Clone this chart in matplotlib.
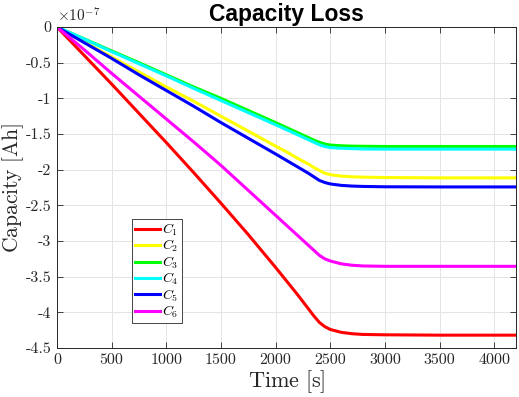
import matplotlib
matplotlib.use("Agg")
import matplotlib.pyplot as plt
from matplotlib.ticker import FuncFormatter, MultipleLocator

plt.rcParams['mathtext.fontset'] = 'cm'
plt.rcParams['axes.unicode_minus'] = False

# Time [s]
t = [0, 250, 500, 750, 1000, 1250, 1500, 1750, 2000, 2100, 2200, 2300, 2350,
     2400, 2450, 2500, 2600, 2700, 2800, 3000, 3500, 4200]

# Capacity loss in units of 1e-7 Ah
C1 = [0, -0.40, -0.80, -1.21, -1.62, -2.04, -2.47, -2.91, -3.37, -3.56, -3.75, -3.95, -4.05,
      -4.14, -4.20, -4.24, -4.28, -4.30, -4.31, -4.315, -4.32, -4.32]
C2 = [0, -0.21, -0.42, -0.63, -0.84, -1.04, -1.25, -1.46, -1.67, -1.75, -1.84, -1.92, -1.97,
      -2.01, -2.05, -2.07, -2.09, -2.10, -2.105, -2.11, -2.115, -2.115]
C3 = [0, -0.167, -0.335, -0.50, -0.67, -0.84, -1.00, -1.17, -1.34, -1.41, -1.48, -1.55, -1.585,
      -1.615, -1.64, -1.655, -1.665, -1.67, -1.672, -1.675, -1.675, -1.675]
C4 = [0, -0.17, -0.345, -0.515, -0.685, -0.86, -1.03, -1.20, -1.37, -1.44, -1.51, -1.58, -1.615,
      -1.65, -1.675, -1.69, -1.70, -1.705, -1.71, -1.712, -1.712, -1.712]
C5 = [0, -0.22, -0.44, -0.67, -0.89, -1.11, -1.34, -1.56, -1.78, -1.87, -1.96, -2.05, -2.10,
      -2.15, -2.18, -2.20, -2.22, -2.23, -2.235, -2.24, -2.242, -2.242]
C6 = [0, -0.32, -0.65, -0.97, -1.29, -1.61, -1.94, -2.29, -2.64, -2.78, -2.92, -3.06, -3.13,
      -3.20, -3.25, -3.28, -3.32, -3.34, -3.35, -3.355, -3.355, -3.355]

series = [C1, C2, C3, C4, C5, C6]
labels = [r'$C_1$', r'$C_2$', r'$C_3$', r'$C_4$', r'$C_5$', r'$C_6$']
colors = ['#ff0000', '#ffff00', '#00ff00', '#00ffff', '#0000ff', '#ff00ff']

xticks = [0, 500, 1000, 1500, 2000, 2500, 3000, 3500, 4000]

fig = plt.figure(figsize=(5.19, 3.97), dpi=100)
ax = fig.add_axes([57/519, 1-348/397, 459/519, 321/397])

for y, lab, c in zip(series, labels, colors):
    ax.plot(t, y, color=c, lw=2.2, label=lab, solid_joinstyle='round')

ax.set_xlim(0, 4200)
ax.set_ylim(-4.5, 0)
ax.set_xticks(xticks)
ax.yaxis.set_major_locator(MultipleLocator(0.5))
fmt = FuncFormatter(lambda v, p: f'{v:g}')
ax.xaxis.set_major_formatter(fmt)
ax.yaxis.set_major_formatter(fmt)
for lbl in ax.get_xticklabels() + ax.get_yticklabels():
    lbl.set_fontfamily('cmr10')
    lbl.set_fontsize(11.5)

ax.grid(True, color='#e4e4e4', lw=0.7)
ax.set_axisbelow(True)
ax.tick_params(direction='in', length=4, width=0.6, color='#262626',
               top=True, right=True, labelcolor='#262626', pad=4)
for s in ax.spines.values():
    s.set_color('#262626')
    s.set_linewidth(0.7)

ax.set_xlabel(r'$\mathrm{Time\ [s]}$', fontsize=16, color='#262626', labelpad=1)
ax.set_ylabel(r'$\mathrm{Capacity\ [Ah]}$', fontsize=15.5, color='#262626')
ax.yaxis.set_label_coords(-0.068, 0.5)
ax.set_title('Capacity Loss', fontsize=16.5, fontweight='bold', family='Liberation Sans', pad=4)
ax.text(0.0, 1.008, r'$\times10^{-7}$', transform=ax.transAxes, fontsize=11,
        ha='left', va='bottom', color='#262626')

leg = ax.legend(loc='upper left', bbox_to_anchor=(0.163, 0.402), borderaxespad=0,
                fancybox=False, framealpha=1, edgecolor='#262626', fontsize=10,
                handlelength=1.8, handletextpad=0.2, labelspacing=0.0,
                borderpad=0.2)
leg.get_frame().set_linewidth(0.6)

fig.savefig('out.png', dpi=100)
